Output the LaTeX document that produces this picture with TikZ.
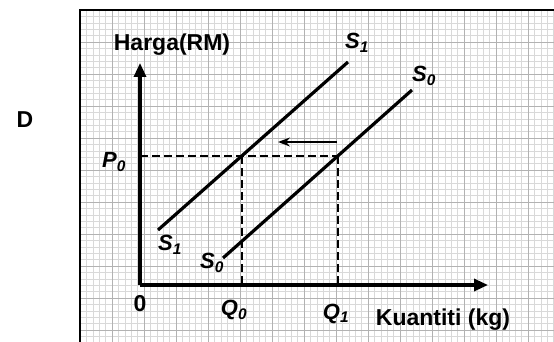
\documentclass[tikz,border=0pt]{standalone}
\usepackage{fontspec}
\setmainfont{Liberation Sans}
\usetikzlibrary{arrows.meta,intersections}
\begin{document}
\begin{tikzpicture}[x=1pt,y=-1pt,
  lbl/.style={font=\fontsize{23}{23}\selectfont\bfseries, inner sep=0pt},
  sym/.style={font=\fontsize{22}{22}\selectfont\bfseries\itshape, inner sep=0pt},
  axis/.style={line width=3.2pt,-{Triangle[length=14pt,width=12pt]}},
  curve/.style={line width=3.2pt},
  guide/.style={line width=2.3pt,dash pattern=on 8pt off 4pt},
  minorgrid/.style={gray!30,line width=0.5pt},
  majorgrid/.style={gray!60,line width=0.7pt},
  frame/.style={line width=2.4pt}]
\useasboundingbox (0,0) rectangle (554,342);
\fill[white] (0,0) rectangle (554,342);
% graph paper
\begin{scope}
\clip (80,10) rectangle (554,342);
\foreach \i in {0,...,80} {
  \draw[minorgrid] (80+\i*6.4,10) -- (80+\i*6.4,342);
  \draw[minorgrid] (80,10+\i*6.4) -- (554,10+\i*6.4);
}
\foreach \i in {0,...,16} {
  \draw[majorgrid] (80+\i*32,10) -- (80+\i*32,342);
  \draw[majorgrid] (80,10+\i*32) -- (554,10+\i*32);
}
\end{scope}
% frame
\coordinate (fbl) at (80,342);
\coordinate (ftl) at (80,10);
\coordinate (ftr) at (554,10);
\draw[frame] (fbl) -- (ftl) -- (ftr);
% label D
\node[lbl] (D) at (25,120) {D};
% axes
\coordinate (O) at (140,285);
\coordinate (Ytop) at (140,63);
\coordinate (Xend) at (488,285);
\draw[axis] (O) -- (Ytop);
\draw[axis] (O) -- (Xend);
\node[lbl] (harga) at (172,45) {Harga(RM)};
\node[lbl] (kuant) at (443,320) {Kuantiti (kg)};
\node[lbl] (zero) at (140,304) {0};
% supply curves
\coordinate (S1a) at (158,230);
\coordinate (S1b) at (348,62);
\coordinate (S0a) at (223,258);
\coordinate (S0b) at (412,90);
\draw[curve,name path=s1] (S1a) -- (S1b);
\draw[curve,name path=s0] (S0a) -- (S0b);
% price level
\coordinate (Py) at (140,156);
\path[name path=p0] (Py) -- (450,156);
\path[name intersections={of=p0 and s1,by=E1}];
\path[name intersections={of=p0 and s0,by=E0}];
\coordinate (Q0x) at (E1 |- O);
\coordinate (Q1x) at (E0 |- O);
\draw[guide] (Py) -- (E0);
\draw[guide] (E1) -- (Q0x);
\draw[guide] (E0) -- (Q1x);
% shift arrow
\coordinate (arT) at (337,142);
\coordinate (arH) at (278,142);
\draw[line width=1.3pt,-{Stealth[length=12pt,width=9pt]}] (arT) -- (arH);
% symbol labels
\node[sym] (s1top) at (357,43) {S\textsubscript{1}};
\node[sym] (s0top) at (424,76) {S\textsubscript{0}};
\node[sym] (s1bot) at (170,245) {S\textsubscript{1}};
\node[sym] (s0bot) at (212,263) {S\textsubscript{0}};
\node[sym] (p0) at (114,162) {P\textsubscript{0}};
\node[sym] (q0) at (234,310) {Q\textsubscript{0}};
\node[sym] (q1) at (336,314) {Q\textsubscript{1}};
\end{tikzpicture}
\end{document}
